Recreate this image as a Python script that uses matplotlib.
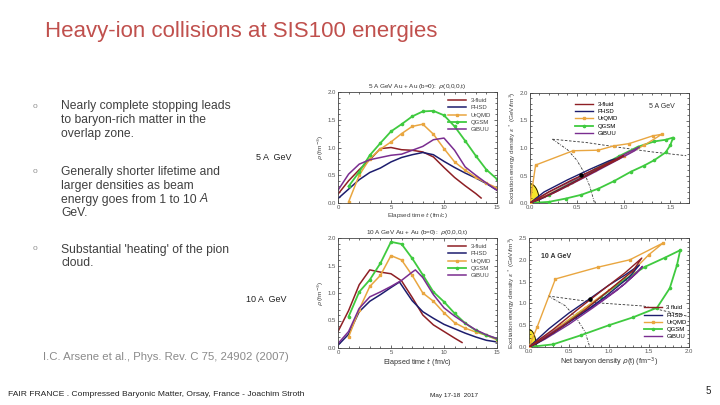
import matplotlib
matplotlib.use("Agg")
import matplotlib.pyplot as plt
import numpy as np

plt.rcParams['font.family'] = ['Liberation Sans', 'DejaVu Sans']

# ---------------- data ----------------
models = ["3-fluid", "PHSD", "UrQMD", "QGSM", "GiBUU"]
colors = {"3-fluid": "#8e1f24", "PHSD": "#1d1d6e", "UrQMD": "#e9a640",
          "QGSM": "#3fca3f", "GiBUU": "#7a2d90"}
markers = {"3-fluid": None, "PHSD": None, "UrQMD": "s", "QGSM": "o", "GiBUU": None}

# 5 A GeV: rho(0,0,0,t)
t5 = {
    "3-fluid": [0, 1, 2, 3, 4, 5, 6, 7, 8, 9, 10, 11, 12, 13, 13.5],
    "PHSD": [0, 1, 2, 3, 4, 5, 6, 7, 8, 9, 10, 11, 12, 13, 14, 15],
    "UrQMD": [1, 2, 3, 4, 5, 6, 7, 8, 9, 10, 11, 12, 13, 14, 15],
    "QGSM": [1, 2, 3, 4, 5, 6, 7, 8, 9, 10, 11, 12, 13, 14, 15],
    "GiBUU": [0, 1, 2, 3, 4, 5, 6, 7, 8, 9, 10, 11, 12, 13, 14, 15],
}
rho5 = {
    "3-fluid": [0.16, 0.4, 0.6, 0.78, 0.98, 1.0, 0.96, 0.95, 0.92, 0.83, 0.64, 0.46, 0.31, 0.17, 0.09],
    "PHSD": [0.08, 0.25, 0.42, 0.55, 0.63, 0.74, 0.82, 0.87, 0.91, 0.87, 0.75, 0.64, 0.54, 0.45, 0.35, 0.23],
    "UrQMD": [0.02, 0.5, 0.8, 0.97, 1.1, 1.25, 1.38, 1.42, 1.24, 0.98, 0.74, 0.59, 0.46, 0.36, 0.27],
    "QGSM": [0.3, 0.56, 0.86, 1.08, 1.29, 1.42, 1.56, 1.65, 1.66, 1.58, 1.38, 1.12, 0.85, 0.6, 0.43],
    "GiBUU": [0.23, 0.52, 0.7, 0.78, 0.82, 0.86, 0.88, 0.95, 1.02, 1.14, 1.17, 0.95, 0.65, 0.5, 0.36, 0.23],
}
# 10 A GeV: rho(0,0,0,t)
t10 = {
    "3-fluid": [0, 1, 2, 3, 4, 5, 6, 7, 8, 9, 10, 11, 11.7],
    "PHSD": [0, 1, 2, 3, 4, 5, 5.8, 6.5, 7, 8, 9, 10, 11, 12, 13, 14, 15],
    "UrQMD": [1, 2, 3, 4, 5, 6, 7, 8, 9, 10, 11, 12, 13, 14, 15],
    "QGSM": [1, 2, 3, 4, 5, 6, 7, 8, 9, 10, 11, 12, 13, 14, 15],
    "GiBUU": [0, 1, 2, 3, 4, 5, 6, 7, 7.3, 8, 9, 10, 11, 12, 13, 14, 15],
}
rho10 = {
    "3-fluid": [0.3, 0.68, 1.15, 1.42, 1.38, 1.35, 1.22, 0.92, 0.6, 0.42, 0.3, 0.18, 0.1],
    "PHSD": [0.05, 0.25, 0.66, 0.85, 0.97, 1.1, 1.2, 1.0, 0.86, 0.66, 0.54, 0.43, 0.35, 0.27, 0.2, 0.14, 0.11],
    "UrQMD": [0.2, 0.7, 1.12, 1.32, 1.68, 1.6, 1.32, 1.0, 0.85, 0.64, 0.46, 0.36, 0.29, 0.23, 0.15],
    "QGSM": [0.57, 1.02, 1.24, 1.54, 1.93, 1.89, 1.63, 1.33, 1.02, 0.84, 0.63, 0.45, 0.32, 0.23, 0.17],
    "GiBUU": [0.08, 0.3, 0.72, 0.93, 1.02, 1.12, 1.23, 1.38, 1.42, 1.28, 0.97, 0.73, 0.58, 0.45, 0.33, 0.24, 0.17],
}

# trajectories in (rho, eps*) plane, 5 A GeV
traj5_rho = {
    "3-fluid": [0, 0.2, 0.45, 0.7, 0.9, 1.0, 0.95, 0.75, 0.5, 0.25, 0],
    "PHSD": [0, 0.15, 0.4, 0.65, 0.85, 0.91, 0.85, 0.6, 0.35, 0.12, 0],
    "UrQMD": [0, 0.06, 0.46, 0.73, 0.9, 1.06, 1.31, 1.41, 1.22, 1.0, 0.7, 0.4, 0.15, 0],
    "QGSM": [0, 0.2, 0.38, 0.55, 0.73, 0.9, 1.08, 1.22, 1.33, 1.45, 1.5, 1.53, 1.45, 1.33, 1.15, 0.95, 0.7, 0.45, 0.2, 0],
    "GiBUU": [0, 0.2, 0.5, 0.8, 1.05, 1.17, 1.12, 0.9, 0.6, 0.3, 0.1, 0],
}
traj5_eps = {
    "3-fluid": [0, 0.2, 0.42, 0.62, 0.78, 0.86, 0.8, 0.63, 0.4, 0.18, 0],
    "PHSD": [0, 0.2, 0.42, 0.62, 0.77, 0.8, 0.72, 0.5, 0.28, 0.08, 0],
    "UrQMD": [0, 0.69, 0.95, 0.96, 1.04, 1.08, 1.22, 1.25, 1.05, 0.85, 0.6, 0.33, 0.12, 0],
    "QGSM": [0, 0.02, 0.08, 0.15, 0.26, 0.4, 0.57, 0.68, 0.78, 0.92, 1.05, 1.19, 1.15, 1.12, 1.02, 0.85, 0.62, 0.38, 0.15, 0],
    "GiBUU": [0, 0.2, 0.45, 0.7, 0.92, 1.02, 0.95, 0.75, 0.48, 0.22, 0.06, 0],
}
# trajectories, 10 A GeV
traj10_rho = {
    "3-fluid": [0, 0.3, 0.6, 0.9, 1.2, 1.41, 1.3, 1.0, 0.7, 0.4, 0.15, 0],
    "PHSD": [0, 0.25, 0.5, 0.77, 1.0, 1.2, 1.38, 1.25, 0.95, 0.65, 0.35, 0.1, 0],
    "UrQMD": [0, 0.1, 0.33, 0.86, 1.26, 1.68, 1.5, 1.3, 1.0, 0.7, 0.4, 0.15, 0],
    "QGSM": [0, 0.3, 0.65, 1.0, 1.3, 1.6, 1.76, 1.85, 1.89, 1.7, 1.45, 1.2, 0.9, 0.6, 0.3, 0],
    "GiBUU": [0, 0.3, 0.6, 0.9, 1.2, 1.42, 1.35, 1.1, 0.8, 0.5, 0.2, 0],
}
traj10_eps = {
    "3-fluid": [0, 0.4, 0.85, 1.28, 1.7, 2.04, 1.75, 1.3, 0.85, 0.45, 0.15, 0],
    "PHSD": [0, 0.42, 0.78, 1.12, 1.42, 1.65, 1.88, 1.6, 1.15, 0.75, 0.38, 0.08, 0],
    "UrQMD": [0, 0.45, 1.56, 1.83, 2.0, 2.39, 2.12, 1.75, 1.3, 0.9, 0.5, 0.18, 0],
    "QGSM": [0, 0.06, 0.27, 0.5, 0.68, 0.9, 1.35, 1.88, 2.22, 2.05, 1.84, 1.55, 1.15, 0.75, 0.35, 0],
    "GiBUU": [0, 0.35, 0.7, 1.05, 1.45, 1.85, 1.7, 1.3, 0.9, 0.52, 0.18, 0],
}
# phase boundaries & markers
pb_dash_rho5 = [0.24, 0.6, 1.0, 1.3, 1.67]
pb_dash_eps5 = [1.16, 1.1, 1.0, 0.93, 0.86]
pb_arc_rho5 = [0.24, 0.4, 0.5, 0.58, 0.64, 0.69]
pb_arc_eps5 = [1.16, 0.97, 0.78, 0.55, 0.3, 0.0]
dot5 = (0.54, 0.51)
pb_dash_rho10 = [0.24, 0.88, 1.43, 1.97]
pb_dash_eps10 = [1.17, 1.01, 0.94, 0.71]
pb_arc_rho10 = [0.24, 0.45, 0.59, 0.7, 0.76]
pb_arc_eps10 = [1.17, 0.95, 0.67, 0.35, 0.0]
dot10 = (0.76, 1.09)
yellow5 = (0.1, 0.35)
yellow10 = (0.09, 0.4)

# each line: list of (text, italic) pieces
bullets = [
    [[("Nearly complete stopping leads", False)], [("to baryon-rich matter in the", False)],
     [("overlap zone.", False)]],
    [[("Generally shorter lifetime and", False)], [("larger densities as beam", False)],
     [("energy goes from 1 to 10 ", False), ("A", True)], [("GeV.", False)]],
    [[("Substantial 'heating' of the pion", False)], [("cloud.", False)]],
]

# ---------------- figure ----------------
W, H = 720, 405
fig = plt.figure(figsize=(7.2, 4.05), dpi=100)
fig.patch.set_facecolor("white")
renderer = fig.canvas.get_renderer()

def px_axes(l, t, r, b):
    return fig.add_axes([l / W, 1 - b / H, (r - l) / W, (b - t) / H])

def fx(x):
    return x / W

def fy(y):
    return 1 - y / H

TICKC = "#555555"
FS_T = 4.3

def style(ax, xmaj, xmin, ymaj, ymin, xlim, ylim, xfmt):
    ax.set_xlim(*xlim)
    ax.set_ylim(*ylim)
    ax.set_xticks(xmaj)
    ax.set_xticks(xmin, minor=True)
    ax.set_yticks(ymaj)
    ax.set_yticks(ymin, minor=True)
    ax.set_xticklabels([xfmt(v) for v in xmaj])
    ax.set_yticklabels(["%.1f" % v for v in ymaj])
    ax.tick_params(which="both", direction="in", top=True, right=True,
                   colors="#333333", labelcolor=TICKC, labelsize=FS_T, width=0.5, pad=1.5)
    ax.tick_params(which="major", length=2.5)
    ax.tick_params(which="minor", length=1.3)
    for s in ax.spines.values():
        s.set_linewidth(0.6)
        s.set_color("#444444")

def rho_time(ax, tdat, rdat, title, legend_loc):
    for m in models:
        ax.plot(tdat[m], rdat[m], color=colors[m], lw=1.1 if m != "QGSM" else 1.3,
                marker=markers[m], ms=1.6, label=m)
    style(ax, [0, 5, 10, 15], np.arange(0, 16, 1), np.arange(0, 2.01, 0.5),
          np.arange(0, 2.01, 0.1), (0, 15), (0, 2.0), lambda v: "%d" % v)
    ax.set_title(title, fontsize=4.6, color="#333333", pad=3)
    ax.set_ylabel("$\\rho$ (fm$^{-3}$)", fontsize=4.6, color="#444444", labelpad=1)
    lg = ax.legend(loc=legend_loc, fontsize=4.3, frameon=False, handlelength=3.0,
                   labelspacing=0.35, borderaxespad=0.6)
    for txt in lg.get_texts():
        txt.set_color("#444444")

def traj(ax, rd, ed, ylim, xlim, xmaj, dash_r, dash_e, arc_r, arc_e, dot, yel):
    th = np.linspace(0, np.pi / 2, 40)
    ax.fill(np.r_[0, yel[0] * np.cos(th), 0], np.r_[0, yel[1] * np.sin(th), 0],
            color="#f5e42a", zorder=1)
    ax.plot(yel[0] * np.cos(th), yel[1] * np.sin(th), color="black", lw=0.6, zorder=2)
    ax.plot(dash_r, dash_e, color="#333333", lw=0.6, ls=(0, (3, 2)), zorder=2)
    ax.plot(arc_r, arc_e, color="#333333", lw=0.6, ls=(0, (3, 1.5, 1, 1.5)), zorder=2)
    for m in ["QGSM", "UrQMD", "GiBUU", "PHSD", "3-fluid"]:
        ax.plot(rd[m], ed[m], color=colors[m], lw=1.0 if m != "QGSM" else 1.3,
                marker=markers[m], ms=1.6, label=m, zorder=3)
    ax.plot([dot[0]], [dot[1]], "o", color="black", ms=2.2, zorder=5)
    style(ax, xmaj, np.arange(0, xlim[1] + 0.001, 0.1), np.arange(0, ylim[1] + 0.01, 0.5),
          np.arange(0, ylim[1] + 0.01, 0.1), xlim, ylim, lambda v: "%.1f" % v)
    ax.set_ylabel("Excitation energy density $\\epsilon^*$ (GeV/fm$^3$)",
                  fontsize=4.6, color="#444444", labelpad=1)

# top-left
ax1 = px_axes(338, 92, 497, 203)
rho_time(ax1, t5, rho5, "5 A GeV Au + Au (b=0):  $\\rho$(0,0,0,t)", "upper right")
ax1.set_xlabel("Elapsed time $t$ (fm/c)", fontsize=4.6, color="#444444", labelpad=1)

# bottom-left
ax3 = px_axes(338, 238, 497, 348)
rho_time(ax3, t10, rho10, "10 A GeV Au + Au (b=0):  $\\rho$(0,0,0,t)", "upper right")
ax3.set_xlabel("Elapsed time $t$ (fm/c)", fontsize=5.2, color="#333333", labelpad=1)

# top-right
ax2 = px_axes(530, 93, 689, 203)
traj(ax2, traj5_rho, traj5_eps, (0, 2.0), (0, 1.7), [0, 0.5, 1.0, 1.5],
     pb_dash_rho5, pb_dash_eps5, pb_arc_rho5, pb_arc_eps5, dot5, yellow5)
h, l = ax2.get_legend_handles_labels()
order = [l.index(m) for m in models]
lg = ax2.legend([h[i] for i in order], models, loc="upper left", bbox_to_anchor=(0.25, 0.97),
                fontsize=4.3, frameon=False, handlelength=3.0, labelspacing=0.35)
ax2.text(0.83, 0.86, "5 A GeV", transform=ax2.transAxes, fontsize=5, color="#333333", ha="center")

# bottom-right
ax4 = px_axes(529, 238, 689, 347)
traj(ax4, traj10_rho, traj10_eps, (0, 2.5), (0, 2.0), [0, 0.5, 1.0, 1.5, 2.0],
     pb_dash_rho10, pb_dash_eps10, pb_arc_rho10, pb_arc_eps10, dot10, yellow10)
h, l = ax4.get_legend_handles_labels()
order = [l.index(m) for m in models]
labels10 = ["3 fluid", "PHSD", "UrQMD", "QGSM", "GiBUU"]
ax4.legend([h[i] for i in order], labels10, loc="lower right", bbox_to_anchor=(1.02, 0.02),
           fontsize=4.3, frameon=False, handlelength=3.0, labelspacing=0.35)
ax4.text(0.17, 0.82, "10 A GeV", transform=ax4.transAxes, fontsize=5, color="#333333",
         ha="center", fontweight="bold")
ax4.set_xlabel("Net baryon density $\\rho$(t) (fm$^{-3}$)", fontsize=5.2, color="#333333", labelpad=1)

# ---------------- slide text ----------------
fig.text(fx(45), fy(32), "Heavy-ion collisions at SIS100 energies", fontsize=16.0,
         color="#c0504d", va="center", ha="left")

TXT = "#404040"
starts = [105, 170, 248]
for para, y0 in zip(bullets, starts):
    fig.text(fx(33), fy(y0 + 1), "o", fontsize=6, color="#909090", va="center", ha="left")
    for i, pieces in enumerate(para):
        xpix = 61.0
        for txt, ital in pieces:
            t = fig.text(fx(xpix), fy(y0 + 14 * i + 4.5), txt, fontsize=8.7, color=TXT,
                         va="baseline", ha="left", style="italic" if ital else "normal")
            bb = t.get_window_extent(renderer=renderer)
            xpix += bb.width

fig.text(fx(256), fy(157), "5 A  GeV", fontsize=6.5, color="#222222", va="center", ha="left")
fig.text(fx(246), fy(300), "10 A  GeV", fontsize=6.5, color="#222222", va="center", ha="left")
fig.text(fx(43), fy(357), "I.C. Arsene et al., Phys. Rev. C 75, 24902 (2007)", fontsize=8.2,
         color="#8a8a8a", va="center", ha="left")
fig.text(fx(8), fy(395), "FAIR FRANCE . Compressed Baryonic Matter, Orsay, France - Joachim Stroth",
         fontsize=6.1, color="#222222", va="center", ha="left")
fig.text(fx(430), fy(396), "May 17-18  2017", fontsize=4.6, color="#222222", va="center", ha="left")
fig.text(fx(708), fy(391), "5", fontsize=7, color="#222222", va="center", ha="center")

fig.savefig("out.png", dpi=100, facecolor="white")
